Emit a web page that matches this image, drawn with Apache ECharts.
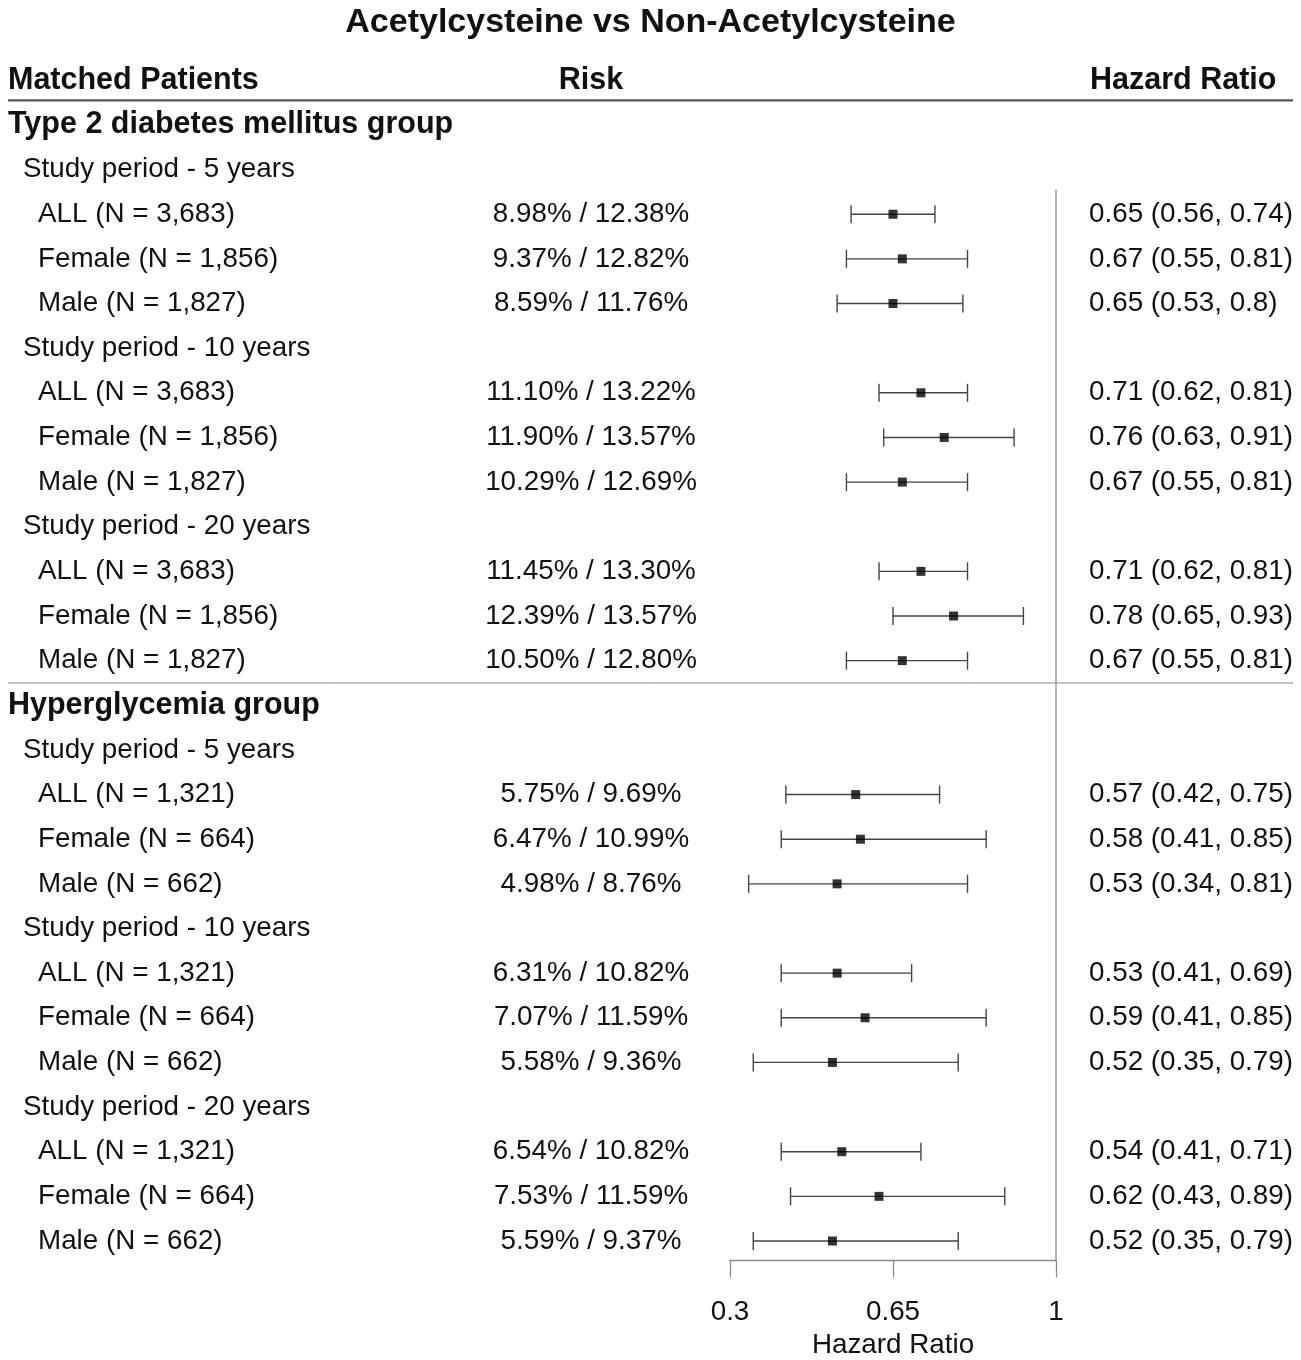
<!DOCTYPE html>
<html>
<head>
<meta charset="utf-8">
<script src="https://cdn.jsdelivr.net/npm/echarts@6/dist/echarts.min.js"></script>
<style>html,body{margin:0;padding:0;background:#fff}#c{width:1301px;height:1360px}</style>
</head>
<body>
<div id="c"></div>
<script>
const chartTitle = 'Acetylcysteine vs Non-Acetylcysteine';
const headerLabels = ['Matched Patients', 'Risk', 'Hazard Ratio'];
const rowLabels = [
  'Type 2 diabetes mellitus group',
  'Study period - 5 years', 'ALL (N = 3,683)', 'Female (N = 1,856)', 'Male (N = 1,827)',
  'Study period - 10 years', 'ALL (N = 3,683)', 'Female (N = 1,856)', 'Male (N = 1,827)',
  'Study period - 20 years', 'ALL (N = 3,683)', 'Female (N = 1,856)', 'Male (N = 1,827)',
  'Hyperglycemia group',
  'Study period - 5 years', 'ALL (N = 1,321)', 'Female (N = 664)', 'Male (N = 662)',
  'Study period - 10 years', 'ALL (N = 1,321)', 'Female (N = 664)', 'Male (N = 662)',
  'Study period - 20 years', 'ALL (N = 1,321)', 'Female (N = 664)', 'Male (N = 662)'
];
const riskTexts = [
  '', '', '8.98% / 12.38%', '9.37% / 12.82%', '8.59% / 11.76%',
  '', '11.10% / 13.22%', '11.90% / 13.57%', '10.29% / 12.69%',
  '', '11.45% / 13.30%', '12.39% / 13.57%', '10.50% / 12.80%',
  '', '', '5.75% / 9.69%', '6.47% / 10.99%', '4.98% / 8.76%',
  '', '6.31% / 10.82%', '7.07% / 11.59%', '5.58% / 9.36%',
  '', '6.54% / 10.82%', '7.53% / 11.59%', '5.59% / 9.37%'
];
const hrValues = [
  null, null, 0.65, 0.67, 0.65,
  null, 0.71, 0.76, 0.67,
  null, 0.71, 0.78, 0.67,
  null, null, 0.57, 0.58, 0.53,
  null, 0.53, 0.59, 0.52,
  null, 0.54, 0.62, 0.52
];
const hrLower = [
  null, null, 0.56, 0.55, 0.53,
  null, 0.62, 0.63, 0.55,
  null, 0.62, 0.65, 0.55,
  null, null, 0.42, 0.41, 0.34,
  null, 0.41, 0.41, 0.35,
  null, 0.41, 0.43, 0.35
];
const hrUpper = [
  null, null, 0.74, 0.81, 0.8,
  null, 0.81, 0.91, 0.81,
  null, 0.81, 0.93, 0.81,
  null, null, 0.75, 0.85, 0.81,
  null, 0.69, 0.85, 0.79,
  null, 0.71, 0.89, 0.79
];
const xTicks = [0.3, 0.65, 1];
const xMin = 0.3, xMax = 1, refValue = 1;
const axisTitle = 'Hazard Ratio';

const FONT = 'Arial, "Liberation Sans", sans-serif';
const TXT = '#111';
const NORMAL = 27.8, BOLD = 30.5;

function level(label) {
  if (/group$/.test(label)) return 0;
  if (/^Study period/.test(label)) return 1;
  return 2;
}

const textItems = [];
headerLabels.forEach((t, i) => {
  textItems.push({ x: [8, 591, 1090][i], y: -1, text: t, align: ['left', 'center', 'left'][i], bold: true, size: BOLD });
});
rowLabels.forEach((t, i) => {
  const lv = level(t);
  textItems.push({ x: [8, 23, 38][lv], y: i, text: t, align: 'left', bold: lv === 0, size: lv === 0 ? BOLD : NORMAL });
  if (riskTexts[i]) textItems.push({ x: 591, y: i, text: riskTexts[i], align: 'center', bold: false, size: NORMAL });
  if (hrValues[i] != null) {
    textItems.push({ x: 1089, y: i, text: `${hrValues[i]} (${hrLower[i]}, ${hrUpper[i]})`, align: 'left', bold: false, size: NORMAL });
  }
});

const ciData = [];
const pointData = [];
hrValues.forEach((v, i) => {
  if (v == null) return;
  ciData.push([hrLower[i], hrUpper[i], i]);
  pointData.push([v, i]);
});

const chart = echarts.init(document.getElementById('c'), null, { renderer: 'canvas' });
const yRange = { min: -1.5, max: rowLabels.length - 0.5 };
const gridTop = 58, gridBottom = 96.7;
chart.setOption({
  animation: false,
  backgroundColor: '#fff',
  title: {
    text: chartTitle, left: 'center', top: 1,
    textStyle: { fontFamily: FONT, fontSize: 34, fontWeight: 'bold', color: TXT }
  },
  grid: [
    { left: 0, right: 0, top: gridTop, bottom: gridBottom, containLabel: false, outerBoundsMode: 'none' },
    { left: 730, width: 326, top: gridTop, bottom: gridBottom, containLabel: false, outerBoundsMode: 'none' }
  ],
  xAxis: [
    { gridIndex: 0, type: 'value', min: 0, max: 1301, show: false },
    {
      gridIndex: 1, type: 'value', min: xMin, max: xMax, position: 'bottom', offset: -3,
      axisLine: { show: true, onZero: false, lineStyle: { color: '#8a8a8a', width: 1.3 } },
      axisTick: { show: true, length: 17, customValues: xTicks, lineStyle: { color: '#8a8a8a', width: 1.3 } },
      axisLabel: { customValues: xTicks, margin: 38, fontFamily: FONT, fontSize: NORMAL, color: TXT, formatter: v => String(v) },
      splitLine: { show: false },
      name: axisTitle, nameLocation: 'middle', nameGap: 70,
      nameTextStyle: { fontFamily: FONT, fontSize: NORMAL, color: TXT }
    }
  ],
  yAxis: [
    { gridIndex: 0, type: 'value', inverse: true, min: yRange.min, max: yRange.max, show: false },
    { gridIndex: 1, type: 'value', inverse: true, min: yRange.min, max: yRange.max, show: false }
  ],
  series: [
    {
      type: 'custom', xAxisIndex: 0, yAxisIndex: 0, clip: false, silent: true,
      data: [[8, 1293, -0.55, 2.2, '#555'], [8, 1293, 12.5, 1, '#888']],
      renderItem: (params, api) => {
        const a = api.coord([api.value(0), api.value(2)]);
        const b = api.coord([api.value(1), api.value(2)]);
        return { type: 'line', shape: { x1: a[0], y1: a[1], x2: b[0], y2: b[1] },
          style: { stroke: api.value(4), lineWidth: api.value(3) } };
      }
    },
    {
      type: 'custom', xAxisIndex: 0, yAxisIndex: 0, clip: false, silent: true,
      data: textItems.map(t => [t.x, t.y]),
      renderItem: (params, api) => {
        const t = textItems[params.dataIndex];
        const p = api.coord([t.x, t.y]);
        return { type: 'text', x: p[0], y: p[1],
          style: { text: t.text, fill: TXT, align: t.align, verticalAlign: 'middle',
            font: `${t.bold ? 'bold ' : ''}${t.size}px ${FONT}` } };
      }
    },
    {
      type: 'line', xAxisIndex: 1, yAxisIndex: 1, silent: true, symbol: 'none',
      data: [[refValue, 1.45], [refValue, rowLabels.length - 0.57]],
      lineStyle: { color: '#8a8a8a', width: 1.3 }
    },
    {
      type: 'custom', xAxisIndex: 1, yAxisIndex: 1, clip: false, silent: true,
      data: ciData,
      renderItem: (params, api) => {
        const a = api.coord([api.value(0), api.value(2)]);
        const b = api.coord([api.value(1), api.value(2)]);
        const h = 9;
        const st = { stroke: '#444', lineWidth: 1.4 };
        return { type: 'group', children: [
          { type: 'line', shape: { x1: a[0], y1: a[1], x2: b[0], y2: b[1] }, style: st },
          { type: 'line', shape: { x1: a[0], y1: a[1] - h, x2: a[0], y2: a[1] + h }, style: st },
          { type: 'line', shape: { x1: b[0], y1: b[1] - h, x2: b[0], y2: b[1] + h }, style: st }
        ] };
      }
    },
    {
      type: 'scatter', xAxisIndex: 1, yAxisIndex: 1, silent: true,
      symbol: 'rect', symbolSize: 9, data: pointData,
      itemStyle: { color: '#000' }, z: 5
    }
  ]
});
</script>
</body>
</html>
